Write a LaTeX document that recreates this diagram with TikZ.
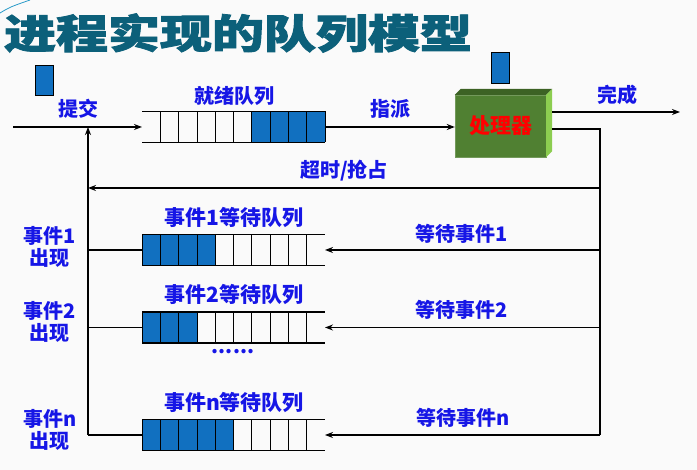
\documentclass[tikz,border=0pt]{standalone}
\usepackage{fontspec}
\usetikzlibrary{arrows.meta,calc}
\newfontfamily\cjk{Noto Sans CJK SC}
\newfontfamily\titlefont[BoldFeatures={FakeBold=2}]{Noto Sans CJK SC}
\definecolor{txtblue}{RGB}{22,22,230}
\definecolor{cellblue}{RGB}{17,112,192}
\definecolor{titleteal}{RGB}{12,96,122}
\definecolor{cpufront}{RGB}{80,128,50}
\definecolor{cputop}{RGB}{60,98,36}
\definecolor{cpuside}{RGB}{140,205,80}
\definecolor{bg}{RGB}{250,250,250}

\begin{document}
\begin{tikzpicture}[x=1pt,y=-1pt,
  every node/.style={font=\cjk\bfseries\fontsize{20}{22}\selectfont},
  lbl/.style={text=txtblue,inner sep=0pt},
  qlbl/.style={lbl,font=\cjk\bfseries\fontsize{21}{24}\selectfont},
  queue/.style={minimum width=183pt,minimum height=31pt,inner sep=0pt,outer sep=0pt},
  qline/.style={line width=1.6pt},
  cline/.style={line width=0.8pt},
  cell/.style={fill=cellblue},
  link/.style={line width=1.6pt},
  arr/.style={link,-{Stealth[length=8pt,width=6pt]}},
  cpu/.style={fill=cpufront,draw=cpufront!80!white,minimum width=91pt,minimum height=62pt,inner sep=0pt,text=red,font=\cjk\bfseries\fontsize{21}{24}\selectfont}]
\useasboundingbox (0,0) rectangle (697,470);
\fill[bg] (0,0) rectangle (697,470);
\draw[cyan!60!teal,line width=0.8pt] (0,13) .. controls (10,7) .. (30,0);

% title
\node[text=titleteal,inner sep=0pt,font=\titlefont\bfseries\fontsize{40}{44}\selectfont] (title) at (238,33) {\scalebox{1.3}[1]{进程实现的队列模型}};

% small blue blocks (processes)
\node[cell,draw,thick,minimum width=18pt,minimum height=30pt,inner sep=0pt] (p1) at (44,80) {};
\node[cell,draw,thick,minimum width=18pt,minimum height=31pt,inner sep=0pt] (p2) at (500,67.5) {};

% ready queue
\node[queue] (ready) at (233.5,127) {};
\fill[cell] ($(ready.north west)+(6*18.3,0)$) rectangle (ready.south east);
\draw[qline] (ready.north west) -- (ready.north east) (ready.south west) -- (ready.south east);
\foreach \i in {1,...,10}
  \draw[cline] ($(ready.north west)+(\i*18.3,0)$) -- ++(0,31);
\node[lbl] (readylbl) at (234,96) {就绪队列};

% processor
\node[cpu] (cpu) at (500.5,126) {处理器};
\fill[cputop] (cpu.north west) -- ++(6,-6) -- ($(cpu.north east)+(6,-6)$) -- (cpu.north east) -- cycle;
\fill[cpuside] (cpu.north east) -- ++(6,-6) -- ($(cpu.south east)+(6,-6)$) -- (cpu.south east) -- cycle;

% wait queues
\node[queue] (w1) at (233.5,250) {};
\node[queue] (w2) at (233.5,327.5) {};
\node[queue] (wn) at (233.5,435) {};
\foreach \q/\m in {w1/4,w2/3,wn/5} {
  \fill[cell] (\q.north west) rectangle ($(\q.south west)+(\m*18.3,0)$);
  \draw[qline] (\q.north west) -- (\q.north east) (\q.south west) -- (\q.south east);
  \foreach \i in {0,...,9}
    \draw[cline] ($(\q.north west)+(\i*18.3,0)$) -- ++(0,31);
}
\node[qlbl] (w1lbl) at (234,218) {事件1等待队列};
\node[qlbl] (w2lbl) at (234,295) {事件2等待队列};
\node[qlbl] (wnlbl) at (234,403) {事件n等待队列};
\node[lbl] (dots) at (233,352) {......};

% coordinates for the connectors
\coordinate (start) at (13,127);
\coordinate (out) at (552,112);
\coordinate (done) at (680,112);
\coordinate (back) at (552,129);
\coordinate (rc) at (600,129);
\coordinate (rb) at (600,435);
\coordinate (lt) at (88,188);
\coordinate (lb) at (88,435);

% connectors
\draw[arr] (start) -- (ready.west);
\draw[arr] (ready.east) -- (ready.east -| cpu.west);
\draw[arr] (out) -- (done);
\draw[link] (back) -- (rc) -- (rb);
\draw[arr] (rc |- lt) -- (lt);
\draw[arr] (lb) -- (lb |- start);
\draw[link] (w1.west -| lb) -- (w1.west);
\draw[link] (w2.west -| lb) -- (w2.west);
\draw[link] (lb) -- (wn.west);
\draw[arr] (w1.east -| rc) -- (w1.east);
\draw[arr] (w2.east -| rc) -- (w2.east);
\draw[arr] (rb) -- (wn.east);

% labels
\node[lbl] (submit) at (78,109) {提交};
\node[lbl] (dispatch) at (390,109) {指派};
\node[lbl] (finish) at (617,95) {完成};
\node[lbl] (preempt) at (344,171) {超时/抢占};
\node[lbl] (e1) at (462,234) {等待事件1};
\node[lbl] (e2) at (462,310) {等待事件2};
\node[lbl] (en) at (463,418) {等待事件n};
\node[lbl,align=center] (o1) at (50,247) {事件1\\出现};
\node[lbl,align=center] (o2) at (50,322) {事件2\\出现};
\node[lbl,align=center] (on) at (50,430) {事件n\\出现};
\end{tikzpicture}
\end{document}
